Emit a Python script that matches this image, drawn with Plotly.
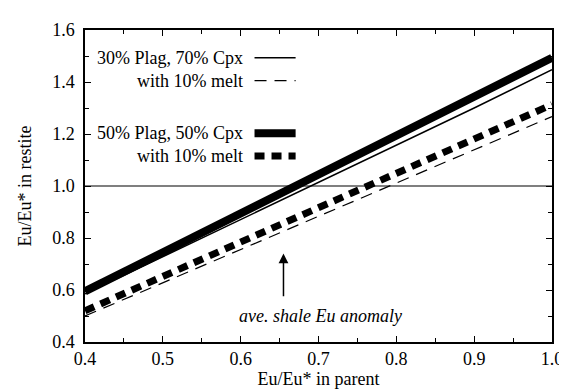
import plotly.graph_objects as go

# Data
x_parent = [0.4, 0.5, 0.6, 0.7, 0.8, 0.9, 1.0]
plag30_cpx70 = [0.585, 0.728, 0.871, 1.014, 1.157, 1.300, 1.447]
plag30_melt10 = [0.500, 0.628, 0.756, 0.884, 1.012, 1.140, 1.267]
plag50_cpx50 = [0.595, 0.745, 0.894, 1.044, 1.194, 1.343, 1.493]
plag50_melt10 = [0.520, 0.652, 0.784, 0.916, 1.049, 1.181, 1.313]

legend_labels = ["30% Plag, 70% Cpx", "with 10% melt", "50% Plag, 50% Cpx", "with 10% melt"]
shale_eu = 0.655
arrow_range = [0.57, 0.74]

FONT = "Liberation Serif"
FS = 18

styles = [
    dict(width=1.5, dash="solid"),
    dict(width=1.2, dash="12px,8px"),
    dict(width=8, dash="solid"),
    dict(width=7, dash="10px,7px"),
]
series = [plag30_cpx70, plag30_melt10, plag50_cpx50, plag50_melt10]

fig = go.Figure()

# reference line at 1.0
fig.add_trace(go.Scatter(x=[0.4, 1.0], y=[1.0, 1.0], mode="lines",
                         line=dict(color="black", width=1.2), showlegend=False, hoverinfo="skip"))

for s, st, name in zip(series, styles, legend_labels):
    fig.add_trace(go.Scatter(x=x_parent, y=s, mode="lines", name=name,
                             line=dict(color="black", width=st["width"], dash=st["dash"]),
                             showlegend=False))

# custom legend (text left of sample, as in the original)
row_y = [0.911, 0.838, 0.669, 0.596]
for yy, name, st in zip(row_y, legend_labels, styles):
    fig.add_annotation(x=0.342, y=yy, xref="paper", yref="paper", text=name,
                       showarrow=False, xanchor="right", yanchor="middle",
                       font=dict(family=FONT, size=FS, color="black"))
    fig.add_shape(type="line", xref="paper", yref="paper", x0=0.363, x1=0.451, y0=yy, y1=yy,
                  line=dict(color="black", width=st["width"], dash=st["dash"]))

# arrow + label
fig.add_annotation(x=shale_eu, y=arrow_range[1], ax=shale_eu, ay=arrow_range[0],
                   xref="x", yref="y", axref="x", ayref="y", text="",
                   showarrow=True, arrowhead=2, arrowsize=1.3, arrowwidth=1.5, arrowcolor="black")
fig.add_annotation(x=0.703, y=0.499, xref="x", yref="y", text="<i>ave. shale Eu anomaly</i>",
                   showarrow=False, font=dict(family=FONT, size=FS, color="black"))

axis_common = dict(showgrid=False, zeroline=False, showline=True, linecolor="black", linewidth=1.5,
                   mirror="ticks", ticks="inside", ticklen=6, tickwidth=1.2, tickcolor="black",
                   tickfont=dict(family=FONT, size=FS, color="black"))

fig.update_xaxes(range=[0.4, 1.0], tickvals=[0.4, 0.5, 0.6, 0.7, 0.8, 0.9, 1.0],
                 ticktext=["0.4", "0.5", "0.6", "0.7", "0.8", "0.9", "1.0"],
                 minor=dict(dtick=0.05, ticks="inside", ticklen=4, tickcolor="black"),
                 title=dict(text="Eu/Eu* in parent", font=dict(family=FONT, size=FS, color="black"),
                            standoff=4),
                 **axis_common)
fig.update_yaxes(range=[0.4, 1.6], tickvals=[0.4, 0.6, 0.8, 1.0, 1.2, 1.4, 1.6],
                 ticktext=["0.4", "0.6", "0.8", "1.0", "1.2", "1.4", "1.6"],
                 minor=dict(dtick=0.1, ticks="inside", ticklen=4, tickcolor="black"),
                 ticklabelstandoff=5,
                 title=dict(text="Eu/Eu* in restite", font=dict(family=FONT, size=FS, color="black"),
                            standoff=16),
                 **axis_common)

fig.update_layout(width=567, height=391, margin=dict(l=77, r=13, t=20, b=57),
                  plot_bgcolor="white", paper_bgcolor="white", showlegend=False)

fig.write_html("out.html")
